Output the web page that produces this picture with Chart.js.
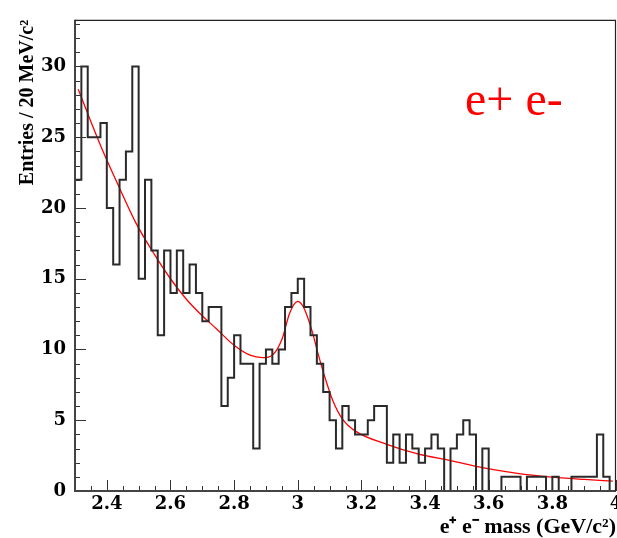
<!DOCTYPE html>
<html>
<head>
<meta charset="utf-8">
<script src="https://cdn.jsdelivr.net/npm/chart.js@4/dist/chart.umd.min.js"></script>
<style>
  html, body { margin: 0; padding: 0; background: #fff; }
  #wrap { width: 617px; height: 538px; position: relative; }
</style>
</head>
<body>
<div id="wrap"><canvas id="c"></canvas></div>
<script>
// Invariant mass histogram: 20 MeV bins starting at 2.30 GeV/c^2
const massLow = 2.30;
const binWidth = 0.02;
const entries = [
  22, 30, 25, 25, 26, 20, 16, 22, 24, 30,
  15, 22, 17, 11, 17, 14, 17, 14, 16, 14,
  12, 13, 13, 6, 8, 11, 9, 9, 3, 9,
  10, 9, 10, 13, 14, 15, 13, 11, 9, 7,
  5, 3, 6, 5, 4, 4, 5, 6, 6, 2,
  4, 2, 4, 3, 2, 3, 4, 3, 0, 3,
  4, 5, 4, 0, 3, 0, 0, 1, 1, 1,
  0, 1, 1, 1, 0, 1, 0, 0, 1, 1,
  1, 1, 4, 1, 0
];

// Fitted curve (background + peak), sampled along the mass axis
const fitMass = [2.31, 2.35, 2.39, 2.44, 2.49, 2.55, 2.60, 2.65, 2.69, 2.745,
                 2.80, 2.85, 2.89, 2.92, 2.95, 2.975, 3.00, 3.02, 3.045, 3.065,
                 3.09, 3.11, 3.14, 3.18, 3.28, 3.38, 3.48, 3.58, 3.69, 3.79,
                 3.90, 3.99];
const fitEntries = [28.4, 26.1, 23.9, 21.4, 19.0, 16.7, 15.0, 13.55, 12.6, 11.45,
                    10.3, 9.6, 9.43, 9.6, 10.7, 12.6, 13.4, 12.9, 11.3, 9.6,
                    7.7, 6.4, 5.1, 4.25, 3.3, 2.6, 2.15, 1.65, 1.25, 1.0,
                    0.82, 0.70];

const xTickValues = [2.4, 2.6, 2.8, 3.0, 3.2, 3.4, 3.6, 3.8, 4.0];
const yTickValues = [0, 5, 10, 15, 20, 25, 30];
const massHigh = 4.0;
const yMax = 33.3;

// Outline of the histogram: each point is a bin's low edge carrying that bin's count
const histPoints = [{ x: massLow, y: 0 }];
entries.forEach((v, i) => {
  histPoints.push({ x: +(massLow + i * binWidth).toFixed(4), y: v });
});
histPoints.push({ x: +(massLow + entries.length * binWidth).toFixed(4), y: 0 });

const fitPoints = fitMass.map((m, i) => ({ x: m, y: fitEntries[i] }));

// Frame box and inward-pointing ticks
const frameTicks = {
  id: 'frameTicks',
  afterDatasetsDraw(chart) {
    const { ctx, chartArea: a, scales } = chart;
    const xs = scales.x, ys = scales.y;
    ctx.save();
    ctx.strokeStyle = '#333';
    ctx.lineWidth = 1;
    ctx.beginPath();
    for (let k = 0; k <= Math.round((massHigh - massLow) / 0.05); k++) {
      const v = massLow + k * 0.05;
      const px = Math.round(xs.getPixelForValue(v)) + 0.5;
      const major = Math.abs(v * 5 - Math.round(v * 5)) < 1e-6;
      const len = major ? 11 : 5;
      ctx.moveTo(px, a.bottom);
      ctx.lineTo(px, a.bottom - len);
    }
    for (let v = 1; v < yMax; v++) {
      const py = Math.round(ys.getPixelForValue(v)) + 0.5;
      const len = v % 5 === 0 ? 11 : 5;
      ctx.moveTo(a.left, py);
      ctx.lineTo(a.left + len, py);
    }
    ctx.stroke();
    ctx.lineWidth = 2;
    ctx.strokeStyle = '#444';
    ctx.beginPath();
    ctx.moveTo(a.left, a.top);
    ctx.lineTo(a.left, a.bottom);
    ctx.lineTo(a.right, a.bottom);
    ctx.stroke();
    ctx.lineWidth = 1.2;
    ctx.strokeStyle = '#222';
    ctx.beginPath();
    ctx.moveTo(a.left, a.top + 0.5);
    ctx.lineTo(a.right - 0.5, a.top + 0.5);
    ctx.lineTo(a.right - 0.5, a.bottom);
    ctx.stroke();
    // channel label
    ctx.fillStyle = '#ff0000';
    ctx.font = '48px "Liberation Serif", serif';
    ctx.textBaseline = 'alphabetic';
    ctx.textAlign = 'left';
    ctx.fillText('e+ e-', 465, 115);
    ctx.restore();
  }
};

const tickFont = { family: '"DejaVu Serif", serif', weight: 'bold', size: 18 };

new Chart(document.getElementById('c'), {
  type: 'line',
  data: {
    datasets: [
      {
        data: histPoints,
        stepped: 'before',
        borderColor: '#2a2a2a',
        borderWidth: 2,
        pointRadius: 0,
        fill: false
      },
      {
        data: fitPoints,
        borderColor: '#ff0000',
        borderWidth: 1.3,
        pointRadius: 0,
        cubicInterpolationMode: 'monotone',
        fill: false
      }
    ]
  },
  options: {
    responsive: true,
    maintainAspectRatio: false,
    animation: false,
    events: [],
    layout: { padding: { top: 12, right: 1, left: 0, bottom: 0 } },
    plugins: { legend: { display: false }, tooltip: { enabled: false } },
    scales: {
      x: {
        type: 'linear',
        min: massLow,
        max: massHigh,
        grid: { display: false, drawTicks: false },
        border: { display: false },
        afterBuildTicks: s => { s.ticks = xTickValues.map(v => ({ value: v })); },
        afterFit: s => { s.height = 47; s.paddingLeft = 0; s.paddingRight = 0; },
        ticks: {
          color: '#000',
          font: tickFont,
          padding: 3,
          maxRotation: 0,
          autoSkip: false,
          callback: v => String(+Number(v).toFixed(1))
        },
        title: {
          display: true,
          text: 'e\u207A e\u207B mass (GeV/c\u00B2)',
          align: 'end',
          color: '#000',
          font: { family: '"Liberation Serif", serif', weight: 'bold', size: 22, lineHeight: 1.0 },
          padding: { top: 0, bottom: 0 }
        }
      },
      y: {
        min: 0,
        max: yMax,
        grid: { display: false, drawTicks: false },
        border: { display: false },
        afterBuildTicks: s => { s.ticks = yTickValues.map(v => ({ value: v })); },
        afterFit: s => { s.width = 75; },
        ticks: {
          color: '#000',
          font: tickFont,
          padding: 9,
          autoSkip: false
        },
        title: {
          display: true,
          text: 'Entries / 20 MeV/c\u00B2',
          align: 'end',
          color: '#000',
          font: { family: '"Liberation Serif", serif', weight: 'bold', size: 20, lineHeight: 1.0 },
          padding: { top: 18, bottom: 0 }
        }
      }
    }
  },
  plugins: [frameTicks]
});
</script>
</body>
</html>
